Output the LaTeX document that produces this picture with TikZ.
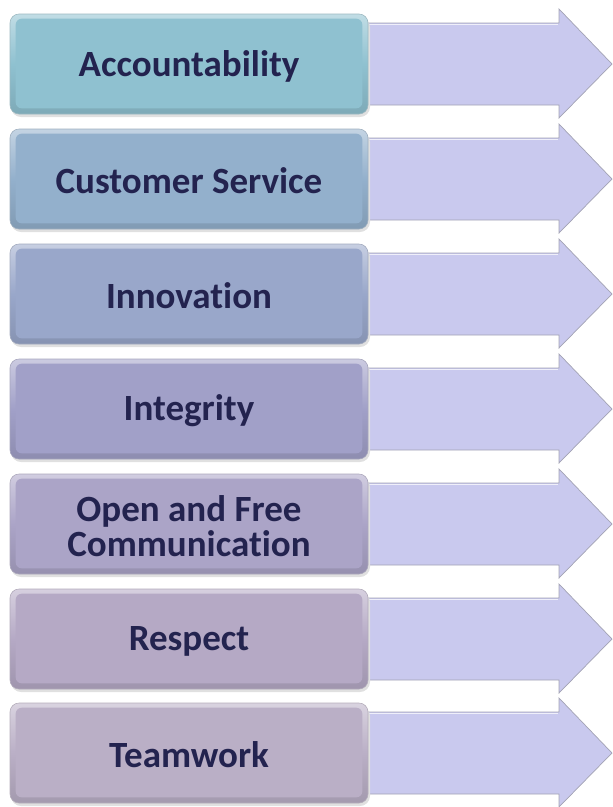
\documentclass[tikz,border=0pt]{standalone}
\usepackage{fontspec}
\setmainfont{Carlito}[Ligatures={NoCommon}]
\usetikzlibrary{calc}
\definecolor{txt}{HTML}{23234F}
\definecolor{arrowfill}{HTML}{C9C9EE}
\definecolor{arrowline}{HTML}{A3A3B4}
\definecolor{cA}{HTML}{8FC1D0}
\definecolor{cB}{HTML}{93B0CC}
\definecolor{cC}{HTML}{99A7CA}
\definecolor{cD}{HTML}{A1A0C8}
\definecolor{cE}{HTML}{ABA4C7}
\definecolor{cF}{HTML}{B5A9C5}
\definecolor{cG}{HTML}{BAAFC6}
\tikzset{
  valuebox/.style={rounded corners=9pt, minimum width=358pt, minimum height=100pt,
    inner sep=0pt, draw=#1!80!black!70, line width=0.6pt,
    top color=#1!55!white, bottom color=#1!88!black, middle color=#1},
  valuetext/.style={align=center, text=txt, inner sep=0pt,
    font=\bfseries\fontsize{37}{35}\selectfont},
  arrowbody/.style={fill=arrowfill, draw=arrowline, line width=0.7pt, line join=miter},
  boxshadow/.style={fill=black!12, rounded corners=10pt},
}
\begin{document}
\begin{tikzpicture}[x=1pt,y=-1pt]
\useasboundingbox (0,0) rectangle (613,807);
\foreach \i/\yc/\col/\lab in {1/64/cA/Accountability,
                             2/179/cB/Customer Service,
                             3/294/cC/Innovation,
                             4/409/cD/Integrity,
                             5/524/cE/{Open and Free\\Communication},
                             6/639/cF/Respect,
                             7/753/cG/Teamwork}{
  % arrow pointing right behind the box
  \draw[arrowbody] (360,\yc-41) -- (559,\yc-41) -- (559,\yc-55) -- (612,\yc)
     -- (559,\yc+54) -- (559,\yc+41) -- (360,\yc+41) -- cycle;
  \draw[white!70!arrowfill, line width=0.8pt] (368,\yc-39.5) -- (557.5,\yc-39.5);
  % soft shadow under the box
  \fill[boxshadow] (11,\yc-47) rectangle (370,\yc+53);
  % bevelled value box
  \node[valuebox=\col] (box\i) at (189,\yc) {};
  \fill[\col, rounded corners=6pt] ($(box\i.north west)+(6,5)$) rectangle ($(box\i.south east)+(-6,-6)$);
  \node[valuetext] (lab\i) at ($(box\i)+(0,2)$) {\lab};
}
\end{tikzpicture}
\end{document}
